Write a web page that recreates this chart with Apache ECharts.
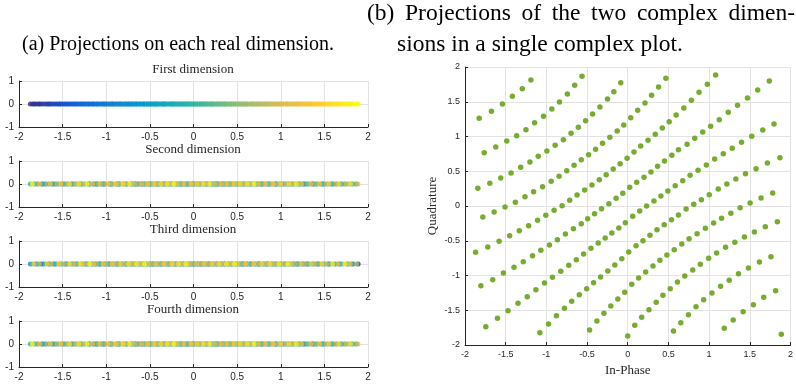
<!DOCTYPE html>
<html>
<head>
<meta charset="utf-8">
<script src="https://cdn.jsdelivr.net/npm/echarts@6/dist/echarts.min.js"></script>
<style>
html,body{margin:0;padding:0;background:#fff;}
#chart{width:796px;height:384px;}
</style>
</head>
<body>
<div id="chart"></div>
<script>
// In-Phase values of the lattice points (right plot), grouped by diagonal row
const inPhase = [
  -1.826,-1.675,-1.540,-1.418,-1.296,-1.190,
  -1.764,-1.622,-1.487,-1.365,-1.251,-1.145,-1.035,-0.933,-0.839,-0.742,-0.652,-0.562,
  -1.842,-1.695,-1.561,-1.434,-1.316,-1.202,-1.100,-0.994,-0.892,-0.791,-0.697,-0.607,-0.518,-0.432,-0.342,-0.249,-0.171,-0.086,
  -1.781,-1.642,-1.508,-1.381,-1.263,-1.157,-1.047,-0.941,-0.844,-0.750,-0.660,-0.571,-0.481,-0.395,-0.310,-0.220,-0.130,-0.049,0.037,0.122,0.212,0.293,0.379,0.469,
  -1.870,-1.720,-1.581,-1.451,-1.333,-1.218,-1.108,-1.007,-0.905,-0.807,-0.713,-0.623,-0.530,-0.440,-0.350,-0.265,-0.179,-0.094,-0.008,0.077,0.159,0.249,0.338,0.424,0.509,0.595,0.689,0.782,0.876,0.978,1.080,
  -1.805,-1.659,-1.528,-1.398,-1.284,-1.170,-1.068,-0.962,-0.864,-0.766,-0.668,-0.571,-0.493,-0.408,-0.322,-0.232,-0.143,-0.061,0.024,0.110,0.200,0.285,0.367,0.452,0.542,0.623,0.729,0.823,0.921,1.019,1.125,1.235,1.349,1.471,1.597,1.740,
  -1.744,-1.601,-1.471,-1.349,-1.235,-1.129,-1.023,-0.925,-0.823,-0.725,-0.632,-0.542,-0.452,-0.363,-0.277,-0.196,-0.110,-0.029,0.061,0.147,0.232,0.322,0.408,0.493,0.583,0.676,0.766,0.864,0.966,1.068,1.174,1.284,1.398,1.524,1.659,1.797,
  -1.080,-0.974,-0.876,-0.778,-0.689,-0.595,-0.505,-0.420,-0.334,-0.245,-0.159,-0.073,0.012,0.102,0.187,0.273,0.359,0.448,0.538,0.623,0.717,0.811,0.905,1.002,1.112,1.218,1.328,1.447,1.577,1.716,1.870,
  -0.469,-0.379,-0.293,-0.208,-0.122,-0.037,0.049,0.134,0.220,0.310,0.395,0.481,0.571,0.664,0.754,0.852,0.954,1.055,1.153,1.267,1.381,1.504,1.638,1.781,
  0.000,0.086,0.171,0.261,0.350,0.432,0.522,0.611,0.701,0.799,0.892,0.994,1.092,1.202,1.316,1.434,1.557,1.691,1.838,
  0.562,0.652,0.746,0.839,0.933,1.035,1.141,1.247,1.361,1.483,1.618,1.760,
  1.186,1.296,1.418,1.544,1.671,1.817,
  1.887
];
// Quadrature values, same order
const quadrature = [
  1.261,1.362,1.468,1.578,1.688,1.813,
  0.767,0.849,0.935,1.012,1.098,1.199,1.290,1.396,1.496,1.612,1.736,1.866,
  0.254,0.326,0.403,0.475,0.556,0.633,0.715,0.791,0.873,0.954,1.046,1.132,1.228,1.324,1.424,1.540,1.645,1.775,
  -0.158,-0.086,-0.014,0.053,0.134,0.206,0.278,0.355,0.427,0.508,0.585,0.667,0.739,0.815,0.902,0.988,1.079,1.165,1.271,1.376,1.482,1.592,1.712,1.837,
  -0.667,-0.590,-0.508,-0.427,-0.355,-0.283,-0.206,-0.134,-0.062,0.005,0.082,0.158,0.230,0.302,0.379,0.451,0.532,0.609,0.686,0.777,0.863,0.945,1.031,1.122,1.213,1.309,1.410,1.520,1.635,1.751,1.885,
  -1.146,-1.060,-0.964,-0.882,-0.801,-0.715,-0.638,-0.561,-0.484,-0.403,-0.326,-0.254,-0.182,-0.110,-0.038,0.034,0.110,0.182,0.269,0.341,0.412,0.489,0.571,0.647,0.729,0.811,0.887,0.974,1.065,1.146,1.242,1.348,1.448,1.554,1.669,1.799,
  -1.736,-1.616,-1.506,-1.400,-1.305,-1.204,-1.108,-1.026,-0.940,-0.854,-0.772,-0.691,-0.609,-0.532,-0.460,-0.388,-0.317,-0.240,-0.149,-0.072,0.000,0.072,0.144,0.216,0.293,0.364,0.441,0.513,0.590,0.676,0.753,0.830,0.916,1.002,1.094,1.180,
  -1.822,-1.698,-1.578,-1.472,-1.372,-1.276,-1.189,-1.103,-1.022,-0.935,-0.849,-0.758,-0.662,-0.571,-0.499,-0.422,-0.341,-0.269,-0.197,-0.129,-0.043,0.024,0.091,0.163,0.245,0.317,0.388,0.465,0.537,0.619,0.695,
  -1.784,-1.655,-1.544,-1.439,-1.338,-1.242,-1.127,-1.036,-0.950,-0.863,-0.782,-0.705,-0.628,-0.547,-0.470,-0.398,-0.321,-0.245,-0.177,-0.106,-0.024,0.043,0.115,0.187,
  -1.870,-1.717,-1.602,-1.492,-1.386,-1.285,-1.189,-1.094,-1.007,-0.921,-0.839,-0.753,-0.676,-0.595,-0.523,-0.446,-0.374,-0.297,-0.225,
  -1.799,-1.679,-1.564,-1.448,-1.348,-1.252,-1.156,-1.070,-0.974,-0.892,-0.806,-0.729,
  -1.760,-1.640,-1.520,-1.420,-1.314,-1.218,
  -1.846
];
const panelTitles = ['First dimension','Second dimension','Third dimension','Fourth dimension'];
const xTickLabels = ['-2','-1.5','-1','-0.5','0','0.5','1','1.5','2'];
const captionA = '(a) Projections on each real dimension.';
const captionB1 = '(b) Projections of the two complex dimen-';
const captionB2 = 'sions in a single complex plot.';

// parula colour map
const PARULA = ['#352a87','#0f5cdd','#1481d6','#06a4ca','#2eb7a4','#87bf77','#d1bb59','#fec832','#f9fb0e'];
function hexRgb(h){return [parseInt(h.substr(1,2),16),parseInt(h.substr(3,2),16),parseInt(h.substr(5,2),16)];}
function parula(t){
  t=Math.max(0,Math.min(1,t));
  const s=t*8, i=Math.min(7,Math.floor(s)), f=s-i;
  const a=hexRgb(PARULA[i]), b=hexRgb(PARULA[i+1]);
  return 'rgb('+a.map((v,k)=>Math.round(v+(b[k]-v)*f)).join(',')+')';
}
function makePanel(xs, cs, order){
  const idx = xs.map((_,i)=>i);
  if(order==='asc') idx.sort((a,b)=>cs[a]-cs[b]);
  const cmin=Math.min(...cs), cmax=Math.max(...cs);
  return idx.map(i=>({value:[xs[i],0], itemStyle:{color:parula((cs[i]-cmin)/(cmax-cmin))}}));
}
const panels = [
  makePanel(inPhase, inPhase, 'asc'),
  makePanel(quadrature, inPhase, 'asc'),
  makePanel(inPhase, quadrature, 'asc'),
  makePanel(quadrature, inPhase, 'natural')
];

const AX = '#262626', GRIDC = '#e3e3e3';
const lefts = [81,161,241,321];
const grids = [], xAxes = [], yAxes = [], series = [], graphics = [];
lefts.forEach((top,k)=>{
  grids.push({left:19, top:top, width:349, height:46});
  xAxes.push({type:'value', gridIndex:k, min:-2, max:2, interval:0.5,
    axisLine:{show:true, onZero:false, lineStyle:{color:AX}}, axisTick:{inside:true, length:3, lineStyle:{color:AX}},
    axisLabel:{color:AX, fontSize:10, fontFamily:'Liberation Sans, Arial', margin:5,
      formatter:(v)=>xTickLabels[Math.round((v+2)*2)]},
    splitLine:{show:true, lineStyle:{color:GRIDC}}});
  yAxes.push({type:'value', gridIndex:k, min:-1, max:1, interval:1,
    axisLine:{show:true, onZero:false, lineStyle:{color:AX}}, axisTick:{inside:true, length:3, lineStyle:{color:AX}},
    axisLabel:{color:AX, fontSize:10, fontFamily:'Liberation Sans, Arial', margin:5},
    splitLine:{show:true, lineStyle:{color:GRIDC}}});
  series.push({type:'scatter', xAxisIndex:k, yAxisIndex:k, symbolSize:5, data:panels[k], animation:false});
  graphics.push({type:'text', x:193, y:top-11, style:{text:panelTitles[k], align:'center', verticalAlign:'middle',
    fontFamily:'Liberation Serif', fontSize:13, fill:'#262626'}});
});
grids.push({left:465, top:67, width:327, height:278});
xAxes.push({type:'value', gridIndex:4, min:-2, max:2, interval:0.5,
  name:'In-Phase', nameLocation:'middle', nameGap:11,
  nameTextStyle:{fontFamily:'Liberation Serif', fontSize:13, color:AX},
  axisLine:{show:true, onZero:false, lineStyle:{color:AX}}, axisTick:{inside:true, length:3, lineStyle:{color:AX}},
  axisLabel:{color:AX, fontSize:9, fontFamily:'Liberation Sans, Arial', margin:5},
  splitLine:{show:true, lineStyle:{color:GRIDC}}});
yAxes.push({type:'value', gridIndex:4, min:-2, max:2, interval:0.5,
  name:'Quadrature', nameLocation:'middle', nameGap:26, nameRotate:90,
  nameTextStyle:{fontFamily:'Liberation Serif', fontSize:13, color:AX},
  axisLine:{show:true, onZero:false, lineStyle:{color:AX}}, axisTick:{inside:true, length:3, lineStyle:{color:AX}},
  axisLabel:{color:AX, fontSize:9, fontFamily:'Liberation Sans, Arial', margin:5},
  splitLine:{show:true, lineStyle:{color:GRIDC}}});
series.push({type:'scatter', xAxisIndex:4, yAxisIndex:4, symbolSize:5.5,
  itemStyle:{color:'#77ac30', opacity:1},
  data:inPhase.map((x,i)=>[x, quadrature[i]]), animation:false});

// captions (LaTeX-style subcaptions; first line of (b) is justified)
const CAP_FAMILY = 'Liberation Serif';
function capStyle(size){ return {fontFamily:CAP_FAMILY, fontSize:size, fill:'#000', verticalAlign:'middle'}; }
graphics.push({type:'text', x:22, y:45, style:Object.assign({text:captionA}, capStyle(20))});
(function(){
  const size = 23.5;
  const ctx = document.createElement('canvas').getContext('2d');
  ctx.font = size + 'px "' + CAP_FAMILY + '"';
  const words = captionB1.split(' ');
  const widths = words.map(w=>ctx.measureText(w).width);
  const total = widths.reduce((a,b)=>a+b,0);
  const x0 = 367, x1 = 795;
  const gap = Math.max(ctx.measureText(' ').width, (x1 - x0 - total) / (words.length - 1));
  let x = x0;
  words.forEach((w,i)=>{
    graphics.push({type:'text', x:x, y:14, style:Object.assign({text:w}, capStyle(size))});
    x += widths[i] + gap;
  });
  graphics.push({type:'text', x:397, y:45, style:Object.assign({text:captionB2}, capStyle(size))});
})();

const chart = echarts.init(document.getElementById('chart'), null, {renderer:'canvas'});
chart.setOption({animation:false, grid:grids, xAxis:xAxes, yAxis:yAxes, series:series, graphic:graphics});
</script>
</body>
</html>
